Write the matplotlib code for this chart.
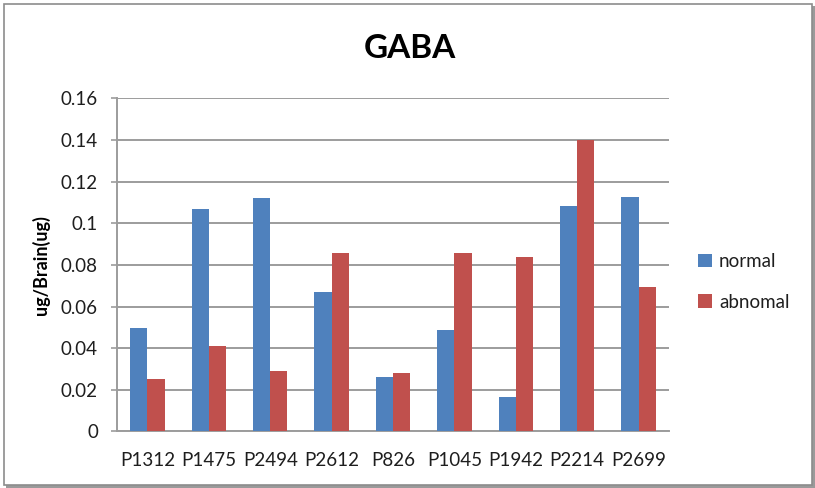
import numpy as np
import matplotlib.pyplot as plt
from matplotlib.patches import Rectangle

samples = ['P1312', 'P1475', 'P2494', 'P2612', 'P826', 'P1045', 'P1942', 'P2214', 'P2699']
normal = [0.0495, 0.1068, 0.1123, 0.0671, 0.0262, 0.0486, 0.0165, 0.1084, 0.1128]
abnomal = [0.0254, 0.0412, 0.0289, 0.0857, 0.0279, 0.0857, 0.0836, 0.1398, 0.0695]
yticks = [0, 0.02, 0.04, 0.06, 0.08, 0.1, 0.12, 0.14, 0.16]
ytick_labels = ['0', '0.02', '0.04', '0.06', '0.08', '0.1', '0.12', '0.14', '0.16']

plt.rcParams['font.family'] = ['Lato', 'DejaVu Sans']

fig = plt.figure(figsize=(8.15, 4.88), dpi=100)
ax = fig.add_axes([0.1432, 0.1158, 0.678, 0.683])

# chart frame with a small drop shadow
fig.patches.append(Rectangle((6 / 815, 0), 809 / 815, 482 / 488,
                             transform=fig.transFigure, facecolor='#9a9a9a',
                             edgecolor='none', zorder=-2))
fig.patches.append(Rectangle((4 / 815, 3 / 488), 808 / 815, 481 / 488,
                             transform=fig.transFigure, facecolor='white',
                             edgecolor='#8c8c8c', linewidth=1.2, zorder=-1))

x = np.arange(len(samples))
w = 0.28
ax.bar(x - w / 2, normal, w, color='#4F81BD', label='normal', zorder=3)
ax.bar(x + w / 2, abnomal, w, color='#C0504D', label='abnomal', zorder=3)

ax.set_xlim(-0.5, len(samples) - 0.5)
ax.set_ylim(0, 0.16)
ax.set_yticks(yticks)
ax.set_yticklabels(ytick_labels)
ax.set_xticks(x)
ax.set_xticklabels(samples)
ax.yaxis.grid(True, color='#9c9c9c', linewidth=1.4, zorder=0)
ax.set_axisbelow(True)

for side in ['top', 'right']:
    ax.spines[side].set_visible(False)
ax.spines['left'].set_color('#9c9c9c')
ax.spines['left'].set_linewidth(1.4)
ax.spines['bottom'].set_color('#9c9c9c')
ax.spines['bottom'].set_linewidth(1.4)

ax.tick_params(axis='y', length=4.5, width=1.2, color='#9c9c9c', pad=9,
               labelsize=13.5, labelcolor='#1e1e1e')
ax.tick_params(axis='x', length=0, pad=15, labelsize=13.5, labelcolor='#1e1e1e')

ax.set_ylabel('ug/Brain(ug)', fontsize=13, fontweight='bold', labelpad=8)
fig.text(409.5 / 815, 1 - 48 / 488, 'GABA', fontsize=24, fontweight='bold',
         ha='center', va='center')

ax.legend(loc='center left', bbox_to_anchor=(1.022, 0.449), frameon=False,
          fontsize=13.5, handlelength=0.75, handleheight=0.75, handletextpad=0.35,
          labelspacing=1.25, labelcolor='#1e1e1e')

fig.savefig('out.png', dpi=100)
